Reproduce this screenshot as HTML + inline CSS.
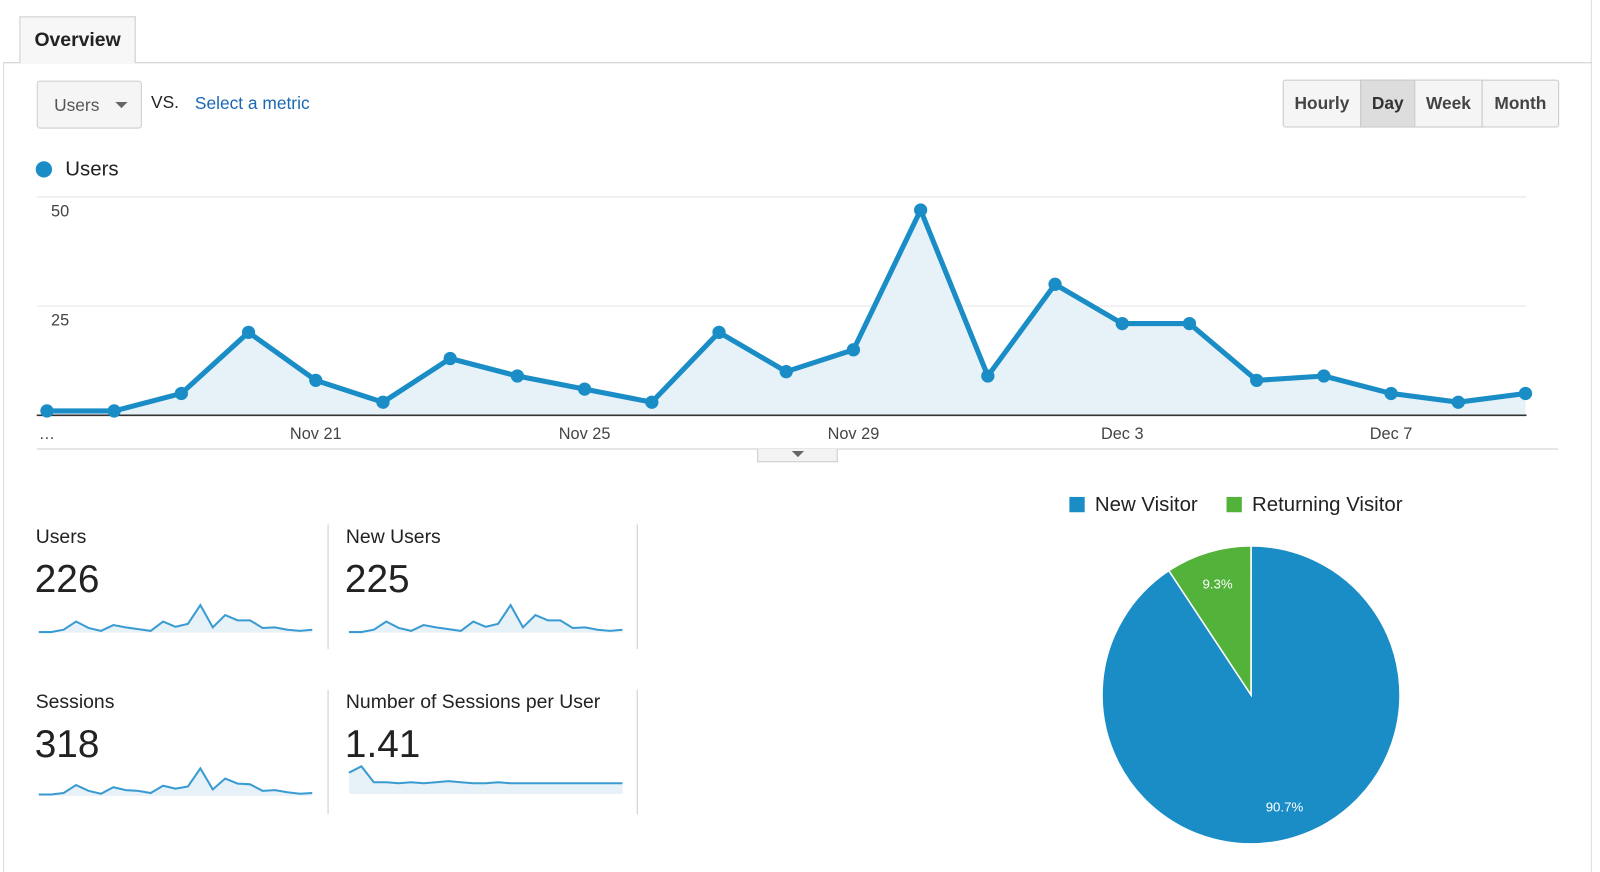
<!DOCTYPE html>
<html><head><meta charset="utf-8"><style>
body{margin:0;width:1600px;height:855px;background:#fff;font-family:"Liberation Sans",Arial,sans-serif;overflow:hidden;color:#222}
#wrap{position:absolute;left:0;top:0;width:1568px;height:838px;transform:scale(1.0204);transform-origin:0 0}
.abs{position:absolute}
.btn{position:absolute;top:78px;height:47px;border:1px solid #c8c8c8;background:#f5f5f5;font-size:17px;font-weight:bold;color:#444;display:flex;align-items:center;justify-content:center;box-sizing:border-box}
.lbl{position:absolute;font-size:19px;color:#222}
.big{position:absolute;font-size:38px;color:#222}
.vl{position:absolute;width:1px;background:#ccc}
</style></head><body><div id="wrap">
<div class="abs" style="left:3px;top:61px;width:1px;height:794px;background:#ddd"></div>
<div class="abs" style="left:1559px;top:0;width:1px;height:855px;background:#ddd"></div>
<div class="abs" style="left:3px;top:61px;width:1557px;height:1px;background:#ccc"></div>
<div class="abs" style="left:19px;top:16px;width:114px;height:46px;border:1px solid #ccc;border-bottom:none;background:#f7f7f7;box-sizing:border-box;font-weight:bold;font-size:19px;display:flex;align-items:center;justify-content:center">Overview</div>
<div class="abs" style="left:36px;top:79px;width:103px;height:47px;border:1px solid #ccc;border-radius:3px;background:#f5f5f5;box-sizing:border-box;font-size:17px;color:#555;padding:14px 0 0 16px">Users<span style="position:absolute;left:76px;top:20px;border-left:6px solid transparent;border-right:6px solid transparent;border-top:6px solid #666"></span></div>
<div class="abs" style="left:148px;top:91px;font-size:17px">VS.</div>
<div class="abs" style="left:191px;top:92px;font-size:17px;color:#1a67b3">Select a metric</div>
<div class="btn" style="left:1257px;width:77px;border-radius:3px 0 0 3px">Hourly</div>
<div class="btn" style="left:1333px;width:54px;background:#ddd;color:#333">Day</div>
<div class="btn" style="left:1386px;width:67px">Week</div>
<div class="btn" style="left:1452px;width:76px;border-radius:0 3px 3px 0">Month</div>
<div class="abs" style="left:35px;top:158px;width:16px;height:16px;border-radius:50%;background:#1a8dc6"></div>
<div class="abs" style="left:64px;top:155px;font-size:20px">Users</div>
<svg class="abs" style="left:0;top:0" width="1600" height="855" id="chart"></svg>
<div class="abs" style="left:742px;top:440px;width:79px;height:13px;border:1px solid #ccc;border-top:none;background:#f3f3f3;box-sizing:border-box"><span style="position:absolute;left:33px;top:2px;border-left:6px solid transparent;border-right:6px solid transparent;border-top:6px solid #666"></span></div>

<div class="lbl" style="left:35px;top:516px">Users</div>
<div class="big" style="left:34px;top:547px">226</div>
<div class="vl" style="left:321px;top:514px;height:122px"></div>
<div class="lbl" style="left:339px;top:516px">New Users</div>
<div class="big" style="left:338px;top:547px">225</div>
<div class="vl" style="left:624px;top:514px;height:122px"></div>
<div class="lbl" style="left:35px;top:678px">Sessions</div>
<div class="big" style="left:34px;top:709px">318</div>
<div class="vl" style="left:321px;top:676px;height:122px"></div>
<div class="lbl" style="left:339px;top:678px">Number of Sessions per User</div>
<div class="big" style="left:338px;top:709px">1.41</div>
<div class="vl" style="left:624px;top:676px;height:122px"></div>

<div class="abs" style="left:1048px;top:484px;font-size:20px"><span style="display:inline-block;width:15px;height:15px;background:#1a8dc6;margin-right:10px;vertical-align:-1px"></span>New Visitor</div>
<div class="abs" style="left:1202px;top:484px;font-size:20px"><span style="display:inline-block;width:15px;height:15px;background:#52b23a;margin-right:10px;vertical-align:-1px"></span>Returning Visitor</div>
</div>
<script>
const categories=["Nov 17","Nov 18","Nov 19","Nov 20","Nov 21","Nov 22","Nov 23","Nov 24","Nov 25","Nov 26","Nov 27","Nov 28","Nov 29","Nov 30","Dec 1","Dec 2","Dec 3","Dec 4","Dec 5","Dec 6","Dec 7","Dec 8","Dec 9"];
const users=[1,1,5,19,8,3,13,9,6,3,19,10,15,47,9,30,21,21,8,9,5,3,5];
const newUsers=[1,1,5,19,8,3,13,9,6,3,19,10,15,47,9,30,21,21,8,9,5,3,5];
const sessions=[2,2,4,15,7,3,12,8,7,4,14,10,13,38,9,24,17,16,7,8,5,3,4];
const sessionsPerUser=[2.0,2.6,1.1,1.1,1.0,1.1,1.0,1.1,1.2,1.1,1.0,1.0,1.1,1.0,1.0,1.0,1.0,1.0,1.0,1.0,1.0,1.0,1.0];
const yTicks=[25,50];
const tickLabels=["Nov 21","Nov 25","Nov 29","Dec 3","Dec 7"];
const pieLabels=["New Visitor","Returning Visitor"];
const pieValues=[90.7,9.3];

const NS="http://www.w3.org/2000/svg";
const svg=document.getElementById('chart');
function mk(t,a,p){const e=document.createElementNS(NS,t);for(const k in a)e.setAttribute(k,a[k]);(p||svg).appendChild(e);return e;}
const x0=46,x1=1495,yB=407,yPer=107/25;
const X=i=>x0+i*(x1-x0)/(categories.length-1);
const Y=v=>yB-v*yPer;
for(const t of yTicks){
  const g=mk('line',{x1:36,x2:1496,y1:Y(t),y2:Y(t),stroke:'#e5e5e5'});
  
  
  const tx=mk('text',{x:50,y:Y(t)+19,'font-size':16,fill:'#444','font-family':'Liberation Sans'});
  tx.textContent=t;
  
  
}
const pts=users.map((v,i)=>X(i)+','+Y(v)).join(' ');
const area=mk('polygon',{points:X(0)+','+yB+' '+pts+' '+X(users.length-1)+','+yB,fill:'#e6f1f8'});


const ax=mk('line',{x1:36,x2:1496,y1:yB,y2:yB,stroke:'#333','stroke-width':1.5});


const bl=mk('line',{x1:36,x2:1527,y1:440,y2:440,stroke:'#ccc'});
const ln=mk('polyline',{points:pts,fill:'none',stroke:'#1a8dc6','stroke-width':5,'stroke-linejoin':'round'});


users.forEach((v,i)=>{
  const c=mk('circle',{cx:X(i),cy:Y(v),r:6.5,fill:'#1a8dc6'});
  
  
});
tickLabels.forEach(l=>{
  const i=categories.indexOf(l);
  const t=mk('text',{x:X(i),y:430,'font-size':16,fill:'#444','text-anchor':'middle','font-family':'Liberation Sans'});
  t.textContent=l;
  
  
});
const el=mk('text',{x:38,y:430,'font-size':16,fill:'#444'});el.textContent='…';
function spark(data,left,right,base,h,name){
  const mx=Math.max(...data);
  const sx=i=>left+i*(right-left)/(data.length-1);
  const sy=v=>base-v/mx*h;
  const p=data.map((v,i)=>sx(i)+','+sy(v)).join(' ');
  const a=mk('polygon',{points:left+','+base+' '+p+' '+right+','+base,fill:'#e6f1f8'});
  
  
  const l=mk('polyline',{points:p,fill:'none',stroke:'#3a9bd2','stroke-width':2});
  
  
}
spark(users,38,306,620,27,'users');
spark(newUsers,342,610,620,27,'new-users');
spark(sessions,38,306,780,27,'sessions');
spark(sessionsPerUser,342,610,778,27,'sessions-per-user');
const cx=1226,cy=681,r=146;
const tot=pieValues.reduce((a,b)=>a+b,0);
const cols=['#1a8dc6','#52b23a'];
let start=0;
pieValues.forEach((v,i)=>{
  const frac=v/tot;
  const a0=start*2*Math.PI,a1=(start+frac)*2*Math.PI;
  const p0=[cx+r*Math.sin(a0),cy-r*Math.cos(a0)],p1=[cx+r*Math.sin(a1),cy-r*Math.cos(a1)];
  const s=mk('path',{d:`M${cx},${cy}L${p0[0]},${p0[1]}A${r},${r} 0 ${frac>0.5?1:0} 1 ${p1[0]},${p1[1]}Z`,fill:cols[i],stroke:'#fff','stroke-width':1.5});
  
  
  const am=(start+frac/2)*2*Math.PI, lr=r*0.78;
  const t=mk('text',{x:cx+lr*Math.sin(am),y:cy-lr*Math.cos(am)+5,'font-size':13,fill:'#fff','text-anchor':'middle'});
  t.textContent=v.toFixed(1)+'%';
  
  
  start+=frac;
});
</script>
</body></html>
